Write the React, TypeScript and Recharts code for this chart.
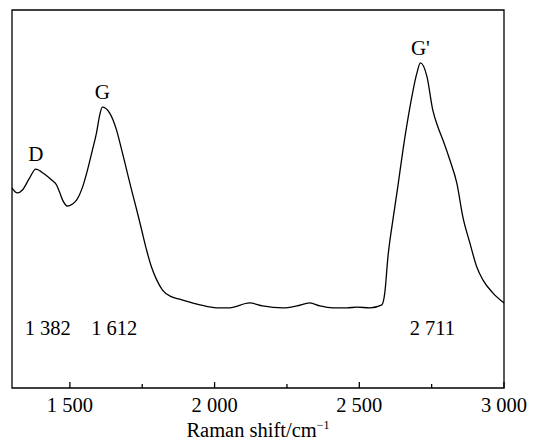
import { LineChart, Line, XAxis, YAxis, ReferenceArea, ReferenceDot } from "recharts";

// Raman shift (cm-1) and relative intensity
const shift = [
  1300, 1319, 1336, 1361, 1382, 1412, 1437, 1454, 1464, 1475, 1492, 1509, 1523, 1544, 1561, 1578,
  1592, 1603, 1612, 1637, 1661, 1679, 1696, 1713, 1731, 1748, 1765, 1782, 1800, 1820, 1852, 1879,
  1949, 2007, 2052, 2121, 2166, 2236, 2284, 2329, 2364, 2409, 2457, 2492, 2537, 2578, 2588, 2599,
  2616, 2633, 2651, 2675, 2699, 2711, 2734, 2754, 2772, 2789, 2813, 2837, 2858, 2882, 2906, 2927,
  2962, 3000,
];
const intensity = [
  52.9, 51.6, 52.4, 55.6, 57.9, 56.6, 55.0, 53.7, 51.9, 49.7, 48.1, 48.7, 49.7, 53.2, 57.7, 63.0,
  67.5, 72.2, 74.3, 72.8, 68.3, 63.0, 57.7, 52.4, 47.1, 41.8, 36.5, 32.0, 28.6, 25.9, 24.1, 23.5,
  22.0, 21.2, 21.2, 22.5, 21.7, 21.2, 21.7, 22.5, 21.7, 21.2, 21.2, 21.4, 21.2, 22.0, 25.1, 34.7,
  44.4, 53.2, 63.0, 74.3, 83.3, 86.0, 82.3, 73.5, 69.0, 65.6, 60.3, 54.2, 45.2, 38.4, 32.0, 28.6,
  25.1, 22.5,
];

const majorTicks = [1500, 2000, 2500, 3000];
const minorTicks = [1750, 2250, 2750];

const peakNames = ["D", "G", "G'"];
const peakShifts = [1382, 1612, 2711];
const peakTops = [57.9, 74.3, 86.0];
const peakValueLevel = 15.9;

const data = shift.map((s, i) => ({ shift: s, intensity: intensity[i] }));
const allTicks = [...majorTicks, ...minorTicks].sort((a, b) => a - b);

const FONT = "'Liberation Serif', 'Times New Roman', serif";

const fmt = (v: number) => {
  const s = String(v);
  return s.length > 3 ? s.slice(0, s.length - 3) + " " + s.slice(-3) : s;
};

const AxisTick = (props: any) => {
  const { x, y, payload } = props;
  const major = majorTicks.includes(payload.value);
  return (
    <g>
      <line x1={x} x2={x} y1={y} y2={y - (major ? 6 : 4)} stroke="#000" strokeWidth={1.3} />
      {major && (
        <text x={x} y={y + 24} textAnchor="middle" fontFamily={FONT} fontSize={20.5} fill="#000">
          {fmt(payload.value)}
        </text>
      )}
    </g>
  );
};

const AxisTitle = (props: any) => {
  const vb = props.viewBox;
  return (
    <text x={vb.x + vb.width / 2} y={vb.y + 49} textAnchor="middle" fontFamily={FONT} fontSize={20.5} fill="#000">
      Raman shift/cm
      <tspan fontSize={12} dy={-8}>−1</tspan>
    </text>
  );
};

const PeakName = (name: string) => (props: any) => {
  const vb = props.viewBox;
  return (
    <text x={vb.x + vb.width / 2} y={vb.y - 8} textAnchor="middle" fontFamily={FONT} fontSize={21} fill="#000">
      {name}
    </text>
  );
};

const PeakValue = (value: number) => (props: any) => {
  const vb = props.viewBox;
  return (
    <text x={vb.x + vb.width / 2 + 12} y={vb.y + 7} textAnchor="middle" fontFamily={FONT} fontSize={20.5} fill="#000">
      {fmt(value)}
    </text>
  );
};

export default function App() {
  return (
    <div style={{ position: "absolute", left: 0, top: 0, background: "#fff" }}>
      <LineChart width={534} height={441} data={data} margin={{ top: 10, right: 30, bottom: 0, left: 12 }}>
        <XAxis
          dataKey="shift"
          type="number"
          domain={[1300, 3000]}
          ticks={allTicks}
          interval={0}
          tickSize={0}
          tickMargin={0}
          tickLine={false}
          axisLine={false}
          tick={<AxisTick />}
          height={53}
          label={<AxisTitle />}
        />
        <YAxis hide domain={[0, 100]} />
        <ReferenceArea x1={1300} x2={3000} y1={0} y2={100} fill="none" stroke="#000" strokeWidth={1.3} />
        <Line
          type="monotone"
          dataKey="intensity"
          stroke="#000"
          strokeWidth={1.3}
          dot={false}
          isAnimationActive={false}
        />
        {peakNames.map((n, i) => (
          <ReferenceDot
            key={n}
            x={peakShifts[i]}
            y={peakTops[i]}
            r={0}
            fill="none"
            stroke="none"
            label={PeakName(n)}
          />
        ))}
        {peakShifts.map((s) => (
          <ReferenceDot
            key={"v" + s}
            x={s}
            y={peakValueLevel}
            r={0}
            fill="none"
            stroke="none"
            label={PeakValue(s)}
          />
        ))}
      </LineChart>
    </div>
  );
}
